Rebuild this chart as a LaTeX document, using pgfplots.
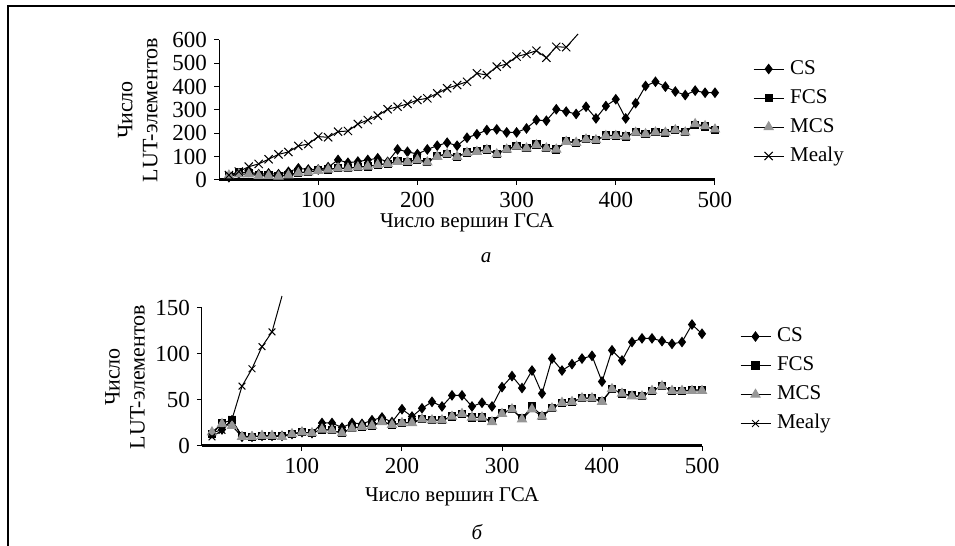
\documentclass[border=0pt]{standalone}
\usepackage{fontspec}
\setmainfont{Liberation Serif}
\usepackage{pgfplots}
\pgfplotsset{compat=1.18}
\definecolor{mcsgray}{RGB}{150,150,150}
\newcommand\f{\fontsize{10.5}{12.5}\selectfont}
\newcommand\ft{\fontsize{11.5}{13}\selectfont}
\newcommand\fy{\fontsize{11}{12.5}\selectfont}

\pgfplotstableread{
x cs fcs mcs
10 12 18 20
20 28 35 25
30 35 30 25
40 25 22 18
50 28 20 18
60 25 18 15
70 35 22 20
80 50 32 30
90 45 35 33
100 45 42 40
110 55 45 45
120 86 52 50
130 74 50 50
140 79 57 55
150 86 58 58
160 93 66 65
170 78 70 70
180 131 80 78
190 121 78 78
200 111 88 86
210 131 78 76
220 147 102 100
230 160 113 111
240 147 100 100
250 181 118 117
260 196 124 121
270 214 131 129
280 217 113 111
290 204 133 131
300 204 146 143
310 221 136 136
320 257 152 150
330 254 138 136
340 303 131 131
350 293 166 164
360 283 160 160
370 314 176 174
380 264 171 171
390 317 191 189
400 346 191 189
410 264 186 186
420 329 205 203
430 403 197 197
440 421 206 204
450 400 203 203
460 379 214 214
470 364 206 204
480 383 236 240
490 374 229 231
500 374 214 217
}\topdata

\pgfplotstableread{
x mealy
10 21
20 36
30 57
40 69
50 89
60 110
70 120
80 146
90 154
100 186
110 183
120 207
130 210
140 240
150 257
160 276
170 303
180 314
190 326
200 343
210 350
220 371
230 393
240 407
250 421
260 457
270 450
280 486
290 497
300 529
310 540
320 554
330 524
340 571
350 569
}\topmealy

\pgfplotstableread{
x cs fcs mcs
10 14 13 15
20 18 25 24
30 28 28 22
40 10 11 10
50 10 10 10
60 11 11 11
70 11 11 11
80 11 11 10
90 13 13 13
100 15 15 15
110 14 14 14
120 25 18 18
130 25 17 17
140 20 14 14
150 25 20 19
160 24 21 21
170 28 22 22
180 31 27 26
190 26 23 23
200 40 25 25
210 32 26 25
220 41 29 29
230 48 28 28
240 43 28 28
250 55 32 32
260 55 35 35
270 43 31 31
280 47 31 31
290 43 27 26
300 64 36 35
310 76 40 40
320 63 30 29
330 82 43 40
340 57 33 32
350 95 41 41
360 82 47 47
370 89 48 48
380 95 52 52
390 98 52 52
400 70 49 48
410 104 62 62
420 93 57 57
430 113 55 54
440 117 54 54
450 117 60 60
460 114 65 65
470 111 60 60
480 113 60 60
490 132 61 60
500 122 61 60
}\botdata

\pgfplotstableread{
x mealy
10 10
20 17
30 29
40 65
50 84
60 108
70 124
}\botmealy

\pgfplotsset{
  lut/.style={
    scale only axis,
    clip=false,
    enlargelimits=false,
    axis x line*=bottom,
    axis y line*=left,
    axis line style={-},
    x axis line style={line width=1.5pt},
    y axis line style={line width=0.5pt},
    tick align=outside,
    major tick length=2.5pt,
    tick style={black, line width=0.5pt},
    xmin=0, xmax=500,
    xtick={100,200,300,400,500},
    /pgf/number format/assume math mode=true,
    tick label style={font=\ft},
    xlabel={Число вершин ГСА},
    ylabel={Число\\LUT-элементов},
    every axis y label/.style={rotate=90, anchor=center, align=center, font=\fy},
    every axis x label/.style={anchor=center, font=\f},
    legend cell align=left,
    legend style={draw=none, fill=none, font=\f, inner sep=0pt, outer sep=0pt,
      nodes={inner sep=0pt, text height=7pt, text depth=2pt},
      row sep=5.5pt,
      /tikz/every odd column/.append style={column sep=3pt}},
    legend image code/.code={\draw[mark repeat=2, mark phase=2, #1] plot coordinates {(0pt,0pt) (7.5pt,0pt) (15pt,0pt)};},
  },
  cs/.style={black, line width=0.5pt, mark=diamond*, mark size=2.3pt, mark options={fill=black, solid}},
  fcs/.style={black, line width=0.5pt, mark=square*, mark size=1.8pt, mark options={fill=black, solid}},
  mcs/.style={black, line width=0.5pt, mark=triangle*, mark size=2.6pt, mark options={fill=mcsgray, draw=mcsgray, solid}},
  mealy/.style={black, line width=0.5pt, mark=x, mark size=2.9pt, mark options={solid}},
}

\begin{document}
\begin{tikzpicture}
\useasboundingbox (0,0) rectangle (477.5pt,273pt);
\draw[line width=1pt] (4pt,0pt) -- (4pt,270pt) -- (477.5pt,270pt);

\begin{axis}[lut, at={(109.5pt,183pt)}, anchor=south west,
  width=248pt, height=70pt,
  ymin=0, ymax=600, ytick={0,100,...,600},
  every axis y label/.append style={at={(axis description cs:-0.164,0.5)}},
  every axis x label/.append style={at={(axis description cs:0.5,-0.307)}},
  legend style={at={(axis description cs:1.077,0.482)}, anchor=west}]
\addplot[cs] table[x=x, y=cs] {\topdata};
\addlegendentry{CS}
\addplot[fcs] table[x=x, y=fcs] {\topdata};
\addlegendentry{FCS}
\addplot[mcs] table[x=x, y=mcs] {\topdata};
\addlegendentry{MCS}
\addplot[mealy] table[x=x, y=mealy] {\topmealy};
\addlegendentry{Mealy}
\addplot[black, line width=0.5pt, no markers, forget plot] coordinates {(350,569) (362,626)};
\end{axis}
\node[font=\f\itshape] at (243pt,144pt) {а};

\begin{axis}[lut, at={(101pt,50pt)}, anchor=south west,
  width=250pt, height=69pt,
  ymin=0, ymax=150, ytick={0,50,100,150},
  every axis y label/.append style={at={(axis description cs:-0.154,0.5)}},
  every axis x label/.append style={at={(axis description cs:0.5,-0.37)}},
  legend style={at={(axis description cs:1.076,0.478)}, anchor=west}]
\addplot[cs] table[x=x, y=cs] {\botdata};
\addlegendentry{CS}
\addplot[fcs] table[x=x, y=fcs] {\botdata};
\addlegendentry{FCS}
\addplot[mcs] table[x=x, y=mcs] {\botdata};
\addlegendentry{MCS}
\addplot[mealy, mark size=2.4pt] table[x=x, y=mealy] {\botmealy};
\addlegendentry{Mealy}
\addplot[black, line width=0.5pt, no markers, forget plot] coordinates {(70,124) (80,163)};
\end{axis}
\node[font=\f\itshape] at (238.5pt,7pt) {б};
\end{tikzpicture}
\end{document}
